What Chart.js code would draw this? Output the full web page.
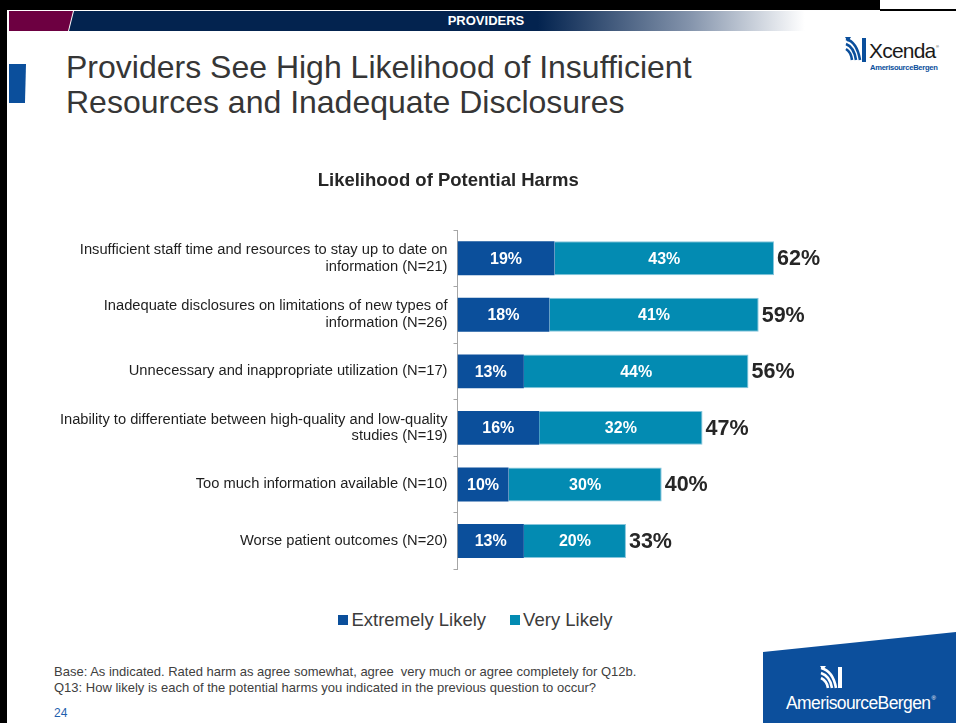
<!DOCTYPE html>
<html>
<head>
<meta charset="utf-8">
<script src="https://cdn.jsdelivr.net/npm/chart.js@4.4.1/dist/chart.umd.min.js"></script>
<style>
  html, body { margin: 0; padding: 0; background: #fff; }
  body { width: 956px; height: 723px; position: relative; overflow: hidden; font-family: "Liberation Sans", Arial, sans-serif; }
  .abs { position: absolute; }
  #frameTop { left: 0; top: 0; width: 880px; height: 10px; background: #000; }
  #frameTopLine { left: 880px; top: 9px; width: 76px; height: 2px; background: #000; }
  #frameLeft { left: 0; top: 0; width: 7px; height: 723px; background: #000; }
  #bandMaroon { left: 9px; top: 11px; width: 66px; height: 20px; background: #6d0041; clip-path: polygon(0 0, 64px 0, 59px 100%, 0 100%); }
  #bandNavy { left: 66px; top: 11px; width: 890px; height: 20px;
    background: linear-gradient(to right, #03234f 0%, #03234f 53%, #8393ab 70%, #ffffff 83%);
    clip-path: polygon(8px 0, 100% 0, 100% 100%, 3px 100%); }
  #bandText { left: 386px; top: 11px; width: 200px; height: 20px; line-height: 20px; text-align: center; color: #fff; font-weight: bold; font-size: 13px; }
  #accent { left: 9px; top: 64px; width: 17px; height: 39px; background: #0b4f9c; clip-path: polygon(0 0, 100% 0, 94% 100%, 0 100%); }
  #title { left: 66px; top: 50px; font-size: 32px; line-height: 35px; color: #363636; white-space: nowrap; }
  #chartBox { left: 0; top: 160px; width: 956px; height: 432px; }
  #legend { left: 0; top: 610px; width: 951px; height: 20px; display: flex; justify-content: center; align-items: center; gap: 24px; }
  .lg-item { display: flex; align-items: center; font-size: 18.5px; color: #3c3c3c; white-space: nowrap; }
  .lg-box { width: 10px; height: 10px; margin-right: 3px; }
  #notes { left: 54px; top: 664px; font-size: 13px; line-height: 16px; color: #404040; white-space: pre; }
  #pageNo { left: 54px; top: 705px; font-size: 12px; line-height: 16px; color: #1f5fad; }
  #xcenda { left: 843px; top: 34px; width: 110px; height: 42px; }
  #abcPanel { left: 763px; top: 632px; width: 193px; height: 91px; background: #0c4f9c; clip-path: polygon(0 20px, 100% 0, 100% 100%, 0 100%); }
  #abcIcon { left: 818px; top: 664px; width: 28px; height: 26px; }
  #abcText { left: 786px; top: 688px; font-size: 17.5px; line-height: 20px; color: #fff; letter-spacing: -0.6px; white-space: nowrap; }
  #abcText sup { font-size: 6px; vertical-align: 9px; margin-left: 1px; }
</style>
</head>
<body>
<div id="frameTop" class="abs"></div>
<div id="frameTopLine" class="abs"></div>
<div id="frameLeft" class="abs"></div>
<div id="bandMaroon" class="abs"></div>
<div id="bandNavy" class="abs"></div>
<div id="bandText" class="abs">PROVIDERS</div>
<div id="accent" class="abs"></div>
<div id="title" class="abs">Providers See High Likelihood of Insufficient<br>Resources and Inadequate Disclosures</div>

<svg id="xcenda" class="abs" viewBox="0 0 110 42">
  <g fill="none" stroke="#0b4f9c" stroke-width="2.6">
    <path d="M3 5 Q14 8 17 26"/>
    <path d="M3 10 Q11 13 13 26"/>
    <path d="M3 15 Q8 18 9 26"/>
  </g>
  <rect x="19" y="4" width="4" height="24" fill="#0b4f9c"/>
  <path d="M2 3 L8 3 L5 8 Z" fill="#0b4f9c"/>
  <text x="26" y="24" font-family="Liberation Sans, Arial, sans-serif" font-size="21" fill="#1a1a1a" letter-spacing="-0.8">Xcenda</text>
  <text x="93" y="14" font-family="Liberation Sans, Arial, sans-serif" font-size="4" fill="#1a1a1a">®</text>
  <text x="27" y="36" font-family="Liberation Sans, Arial, sans-serif" font-size="7.6" font-weight="bold" fill="#0b4f9c" letter-spacing="-0.3">AmerisourceBergen</text>
</svg>

<div id="chartBox" class="abs"><canvas id="harms" width="956" height="432"></canvas></div>
<div id="legend" class="abs"></div>

<div id="notes" class="abs">Base: As indicated. Rated harm as agree somewhat, agree  very much or agree completely for Q12b.
Q13: How likely is each of the potential harms you indicated in the previous question to occur?</div>
<div id="pageNo" class="abs">24</div>

<div id="abcPanel" class="abs"></div>
<svg id="abcIcon" class="abs" viewBox="0 0 28 26">
  <g fill="none" stroke="#ffffff" stroke-width="2.6">
    <path d="M3 4 Q15 7 18 24"/>
    <path d="M3 9 Q12 12 14 24"/>
    <path d="M3 14 Q9 17 10 24"/>
  </g>
  <rect x="20" y="3" width="4" height="21" fill="#ffffff"/>
  <path d="M2 2 L8 2 L5 6 Z" fill="#ffffff"/>
</svg>
<div id="abcText" class="abs">AmerisourceBergen<sup>®</sup></div>

<script>
// Harm categories, as shown on the value axis
const categories = [
  ['Insufficient staff time and resources to stay up to date on', 'information (N=21)'],
  ['Inadequate disclosures on limitations of new types of', 'information (N=26)'],
  'Unnecessary and inappropriate utilization (N=17)',
  ['Inability to differentiate between high-quality and low-quality', 'studies (N=19)'],
  'Too much information available (N=10)',
  'Worse patient outcomes (N=20)'
];
// Percent of providers per likelihood level
const extremelyLikely = [19, 18, 13, 16, 10, 13];
const veryLikely = [43, 41, 44, 32, 30, 20];
// Combined (rounded) totals printed at the end of each bar
const totalLikely = [62, 59, 56, 47, 40, 33];

const seriesNames = ['Extremely Likely', 'Very Likely'];
const seriesColors = ['#0b4f9b', '#038bb2'];
const FONT = '"Liberation Sans", Arial, sans-serif';

// Writes the segment values inside the bars and the totals after them
const barLabels = {
  id: 'barLabels',
  afterDatasetsDraw(chart) {
    const ctx = chart.ctx;
    ctx.save();
    ctx.textBaseline = 'middle';
    chart.data.datasets.forEach((ds, i) => {
      const meta = chart.getDatasetMeta(i);
      ctx.font = 'bold 16px ' + FONT;
      ctx.fillStyle = '#ffffff';
      ctx.textAlign = 'center';
      meta.data.forEach((bar, j) => {
        const p = bar.getProps(['x', 'base', 'y'], true);
        ctx.fillText(ds.data[j] + '%', (p.x + p.base) / 2, p.y + 1);
      });
    });
    const last = chart.getDatasetMeta(chart.data.datasets.length - 1);
    ctx.font = 'bold 21.5px ' + FONT;
    ctx.fillStyle = '#262626';
    ctx.textAlign = 'left';
    last.data.forEach((bar, j) => {
      const p = bar.getProps(['x', 'y'], true);
      ctx.fillText(totalLikely[j] + '%', p.x + 3, p.y + 1);
    });
    ctx.restore();
  }
};

const chart = new Chart(document.getElementById('harms'), {
  type: 'bar',
  data: {
    labels: categories,
    datasets: [
      { label: seriesNames[0], data: extremelyLikely, backgroundColor: seriesColors[0], borderWidth: 0 },
      { label: seriesNames[1], data: veryLikely, backgroundColor: seriesColors[1], borderColor: '#86c5dc', borderWidth: 1 }
    ]
  },
  options: {
    indexAxis: 'y',
    responsive: false,
    animation: false,
    devicePixelRatio: 1,
    layout: { padding: { left: 0, right: 59.5, top: 0, bottom: 0 } },
    datasets: { bar: { categoryPercentage: 1, barPercentage: 0.6 } },
    scales: {
      x: { stacked: true, min: 0, max: 86, display: false },
      y: {
        stacked: true,
        grid: { display: true, drawOnChartArea: false, drawTicks: true, tickLength: 4, color: '#a6a6a6', offset: true },
        border: { display: true, color: '#a6a6a6', width: 1 },
        ticks: { padding: 6, color: '#1e1e1e', font: { size: 14.7, family: FONT, lineHeight: 1.14 } },
        afterFit(scale) { scale.width = 457.5; }
      }
    },
    plugins: {
      legend: { display: false },
      tooltip: { enabled: false },
      title: {
        display: true,
        text: 'Likelihood of Potential Harms',
        color: '#262626',
        font: { size: 18.5, weight: 'bold', family: FONT, lineHeight: 1.2 },
        padding: { top: 10, bottom: 37.8 }
      }
    }
  },
  plugins: [barLabels]
});

// Legend built from the chart's own datasets
const legendEl = document.getElementById('legend');
chart.data.datasets.forEach(ds => {
  const item = document.createElement('div');
  item.className = 'lg-item';
  const box = document.createElement('span');
  box.className = 'lg-box';
  box.style.background = ds.backgroundColor;
  item.appendChild(box);
  item.appendChild(document.createTextNode(ds.label));
  legendEl.appendChild(item);
});
</script>
</body>
</html>
